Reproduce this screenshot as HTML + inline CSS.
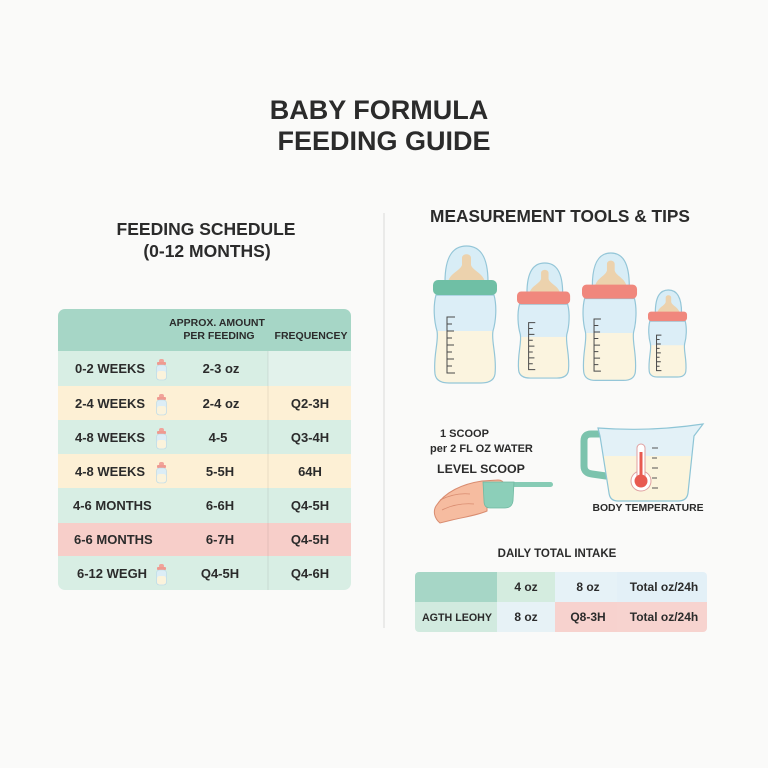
<!DOCTYPE html>
<html><head><meta charset="utf-8"><style>
html,body{margin:0;padding:0;background:#fafaf9;}
svg{display:block;}
text{font-family:"Liberation Sans",sans-serif;font-weight:bold;fill:#2b2b2b;}
</style></head><body>
<svg width="768" height="768" viewBox="0 0 768 768" xmlns="http://www.w3.org/2000/svg">
<defs>
  <clipPath id="tclip"><rect x="58" y="309" width="293" height="281" rx="7"/></clipPath>
  <clipPath id="dclip"><rect x="415" y="572" width="292" height="60" rx="4"/></clipPath>
  <clipPath id="bodyclip"><path d="M3 49 L61 49 C64 60 63 75 60 85 C58 95 64 110 62 128 C61 135 55 137 48 137 L16 137 C9 137 3 135 2 128 C0 110 6 95 4 85 C1 75 0 60 3 49 Z"/></clipPath>
  <clipPath id="cupclip"><path d="M598 428 Q650 432 703 424 L694 436 L688 493 Q687 501 678 501 L618 501 Q610 501 609 493 L600 436 Z"/></clipPath>
</defs>
<rect width="768" height="768" fill="#fafaf9"/>

<!-- Title -->
<text x="379" y="119" font-size="27" text-anchor="middle" fill="#262626">BABY FORMULA</text>
<text x="384" y="150" font-size="27" text-anchor="middle" fill="#262626">FEEDING GUIDE</text>

<!-- Divider -->
<line x1="384" y1="213" x2="384" y2="628" stroke="#e4e4e4" stroke-width="1.5"/>

<!-- Left headings -->
<text x="206" y="235" font-size="17.5" text-anchor="middle">FEEDING SCHEDULE</text>
<text x="207" y="257" font-size="17.5" text-anchor="middle">(0-12 MONTHS)</text>

<!-- Left table -->
<g clip-path="url(#tclip)">
  <rect x="58" y="309" width="293" height="42" fill="#a6d6c6"/>
  <rect x="58" y="351" width="293" height="35" fill="#d8eee4"/>
  <rect x="268" y="351" width="83" height="35" fill="#e2f2eb"/>
  <rect x="58" y="386" width="293" height="34" fill="#fdf0d5"/>
  <rect x="58" y="420" width="293" height="34" fill="#d8eee4"/>
  <rect x="58" y="454" width="293" height="34" fill="#fdf0d5"/>
  <rect x="58" y="488" width="293" height="35" fill="#d8eee4"/>
  <rect x="58" y="523" width="293" height="33" fill="#f7cec9"/>
  <rect x="58" y="556" width="293" height="34" fill="#d8eee4"/>
  <line x1="268" y1="351" x2="268" y2="590" stroke="#000" stroke-opacity="0.08" stroke-width="1"/>
</g>
<text x="217" y="326" font-size="10.5" text-anchor="middle" fill="#333">APPROX. AMOUNT</text>
<text x="219" y="339" font-size="10.5" text-anchor="middle" fill="#333">PER FEEDING</text>
<text x="311" y="339" font-size="10.5" text-anchor="middle" fill="#333">FREQUENCEY</text>

<g font-size="13">
  <text x="75" y="373">0-2 WEEKS</text>
  <text x="221" y="373" text-anchor="middle">2-3 oz</text>

  <text x="75" y="408">2-4 WEEKS</text>
  <text x="221" y="408" text-anchor="middle">2-4 oz</text>
  <text x="310" y="408" text-anchor="middle">Q2-3H</text>

  <text x="75" y="442">4-8 WEEKS</text>
  <text x="218" y="442" text-anchor="middle">4-5</text>
  <text x="310" y="442" text-anchor="middle">Q3-4H</text>

  <text x="75" y="476">4-8 WEEKS</text>
  <text x="220" y="476" text-anchor="middle">5-5H</text>
  <text x="310" y="476" text-anchor="middle">64H</text>

  <text x="73" y="510">4-6 MONTHS</text>
  <text x="220" y="510" text-anchor="middle">6-6H</text>
  <text x="310" y="510" text-anchor="middle">Q4-5H</text>

  <text x="74" y="544">6-6 MONTHS</text>
  <text x="220" y="544" text-anchor="middle">6-7H</text>
  <text x="310" y="544" text-anchor="middle">Q4-5H</text>

  <text x="77" y="578">6-12 WEGH</text>
  <text x="220" y="578" text-anchor="middle">Q4-5H</text>
  <text x="310" y="578" text-anchor="middle">Q4-6H</text>
</g>

<!-- small bottle icons -->
<g id="sb1" transform="translate(156,359)">
  <rect x="3" y="0" width="5" height="4" rx="2" fill="#f1a39a"/>
  <rect x="1" y="3" width="9" height="3" rx="1" fill="#ef9a90"/>
  <rect x="0.5" y="6" width="10" height="15" rx="3" fill="#dcedf6" stroke="#b9d8e4" stroke-width="0.6"/>
  <rect x="1" y="12" width="9" height="8.5" rx="2.5" fill="#fbf3dc"/>
</g>
<use href="#sb1" x="0" y="35"/>
<use href="#sb1" x="0" y="69"/>
<use href="#sb1" x="0" y="103"/>
<use href="#sb1" x="0" y="205"/>

<!-- Right heading -->
<text x="560" y="222" font-size="17.3" text-anchor="middle">MEASUREMENT TOOLS &amp; TIPS</text>

<!-- Bottles -->
<g transform="translate(433,246)">
  <path d="M12 36 C12 10 20 0 33.5 0 C47 0 55 10 55 36 Z" fill="#d8edf6" stroke="#94c6d8" stroke-width="1.2" vector-effect="non-scaling-stroke"/>
  <path d="M15 36 C17 27 27 25 29 19 L29 12 C29 7 38 7 38 12 L38 19 C40 25 50 27 52 36 Z" fill="#ecd2ad"/>
  <path d="M3 49 L61 49 C64 60 63 75 60 85 C58 95 64 110 62 128 C61 135 55 137 48 137 L16 137 C9 137 3 135 2 128 C0 110 6 95 4 85 C1 75 0 60 3 49 Z" fill="#dceef7"/>
  <rect x="0" y="85" width="64" height="60" fill="#fbf4df" clip-path="url(#bodyclip)"/>
  <path d="M3 49 L61 49 C64 60 63 75 60 85 C58 95 64 110 62 128 C61 135 55 137 48 137 L16 137 C9 137 3 135 2 128 C0 110 6 95 4 85 C1 75 0 60 3 49 Z" fill="none" stroke="#94c6d8" stroke-width="1.2" vector-effect="non-scaling-stroke"/>
  <rect x="0" y="34" width="64" height="15" rx="5" fill="#6fbfa5"/>
  <path d="M22 71 L14 71 L14 127 L22 127 M14 78 L19 78 M14 85 L21 85 M14 92 L19 92 M14 99 L21 99 M14 106 L19 106 M14 113 L21 113 M14 120 L19 120" fill="none" stroke="#4a4a4a" stroke-width="1" vector-effect="non-scaling-stroke"/>
</g>
<g transform="translate(517,263) scale(0.83,0.84)">
  <path d="M12 36 C12 10 20 0 33.5 0 C47 0 55 10 55 36 Z" fill="#d8edf6" stroke="#94c6d8" stroke-width="1.2" vector-effect="non-scaling-stroke"/>
  <path d="M15 36 C17 27 27 25 29 19 L29 12 C29 7 38 7 38 12 L38 19 C40 25 50 27 52 36 Z" fill="#ecd2ad"/>
  <path d="M3 49 L61 49 C64 60 63 75 60 85 C58 95 64 110 62 128 C61 135 55 137 48 137 L16 137 C9 137 3 135 2 128 C0 110 6 95 4 85 C1 75 0 60 3 49 Z" fill="#dceef7"/>
  <rect x="0" y="88" width="64" height="60" fill="#fbf4df" clip-path="url(#bodyclip)"/>
  <path d="M3 49 L61 49 C64 60 63 75 60 85 C58 95 64 110 62 128 C61 135 55 137 48 137 L16 137 C9 137 3 135 2 128 C0 110 6 95 4 85 C1 75 0 60 3 49 Z" fill="none" stroke="#94c6d8" stroke-width="1.2" vector-effect="non-scaling-stroke"/>
  <rect x="0" y="34" width="64" height="15" rx="5" fill="#f0877d"/>
  <path d="M22 71 L14 71 L14 127 L22 127 M14 78 L19 78 M14 85 L21 85 M14 92 L19 92 M14 99 L21 99 M14 106 L19 106 M14 113 L21 113 M14 120 L19 120" fill="none" stroke="#4a4a4a" stroke-width="1" vector-effect="non-scaling-stroke"/>
</g>
<g transform="translate(582,253) scale(0.86,0.93)">
  <path d="M12 36 C12 10 20 0 33.5 0 C47 0 55 10 55 36 Z" fill="#d8edf6" stroke="#94c6d8" stroke-width="1.2" vector-effect="non-scaling-stroke"/>
  <path d="M15 36 C17 27 27 25 29 19 L29 12 C29 7 38 7 38 12 L38 19 C40 25 50 27 52 36 Z" fill="#ecd2ad"/>
  <path d="M3 49 L61 49 C64 60 63 75 60 85 C58 95 64 110 62 128 C61 135 55 137 48 137 L16 137 C9 137 3 135 2 128 C0 110 6 95 4 85 C1 75 0 60 3 49 Z" fill="#dceef7"/>
  <rect x="0" y="86" width="64" height="60" fill="#fbf4df" clip-path="url(#bodyclip)"/>
  <path d="M3 49 L61 49 C64 60 63 75 60 85 C58 95 64 110 62 128 C61 135 55 137 48 137 L16 137 C9 137 3 135 2 128 C0 110 6 95 4 85 C1 75 0 60 3 49 Z" fill="none" stroke="#94c6d8" stroke-width="1.2" vector-effect="non-scaling-stroke"/>
  <rect x="0" y="34" width="64" height="15" rx="5" fill="#f0877d"/>
  <path d="M22 71 L14 71 L14 127 L22 127 M14 78 L19 78 M14 85 L21 85 M14 92 L19 92 M14 99 L21 99 M14 106 L19 106 M14 113 L21 113 M14 120 L19 120" fill="none" stroke="#4a4a4a" stroke-width="1" vector-effect="non-scaling-stroke"/>
</g>
<g transform="translate(648,290) scale(0.61,0.635)">
  <path d="M12 36 C12 10 20 0 33.5 0 C47 0 55 10 55 36 Z" fill="#d8edf6" stroke="#94c6d8" stroke-width="1.2" vector-effect="non-scaling-stroke"/>
  <path d="M15 36 C17 27 27 25 29 19 L29 12 C29 7 38 7 38 12 L38 19 C40 25 50 27 52 36 Z" fill="#ecd2ad"/>
  <path d="M3 49 L61 49 C64 60 63 75 60 85 C58 95 64 110 62 128 C61 135 55 137 48 137 L16 137 C9 137 3 135 2 128 C0 110 6 95 4 85 C1 75 0 60 3 49 Z" fill="#dceef7"/>
  <rect x="0" y="87" width="64" height="60" fill="#fbf4df" clip-path="url(#bodyclip)"/>
  <path d="M3 49 L61 49 C64 60 63 75 60 85 C58 95 64 110 62 128 C61 135 55 137 48 137 L16 137 C9 137 3 135 2 128 C0 110 6 95 4 85 C1 75 0 60 3 49 Z" fill="none" stroke="#94c6d8" stroke-width="1.2" vector-effect="non-scaling-stroke"/>
  <rect x="0" y="34" width="64" height="15" rx="5" fill="#f0877d"/>
  <path d="M22 71 L14 71 L14 127 L22 127 M14 78 L19 78 M14 85 L21 85 M14 92 L19 92 M14 99 L21 99 M14 106 L19 106 M14 113 L21 113 M14 120 L19 120" fill="none" stroke="#4a4a4a" stroke-width="1" vector-effect="non-scaling-stroke"/>
</g>

<!-- Scoop text -->
<text x="440" y="437" font-size="11">1 SCOOP</text>
<text x="430" y="452" font-size="11">per 2 FL OZ WATER</text>
<text x="437" y="473" font-size="12.4">LEVEL SCOOP</text>

<!-- Hand + scoop -->
<path d="M436 506 C445 492 462 484 482 481 L498 480 C505 480 506 487 499 488 L487 489 L487 511 C478 515 465 517 452 520 L440 523 C434 518 433 511 436 506 Z" fill="#f6bca0" stroke="#d98c70" stroke-width="1"/>
<path d="M440 500 C450 495 460 493 470 494 M442 510 C452 505 462 503 474 504" fill="none" stroke="#d98c70" stroke-width="0.8"/>
<rect x="510" y="482" width="43" height="5" rx="2.5" fill="#86cbb5"/>
<path d="M483 482 L514 482 L513 501 Q512 508 505 508 L490 508 Q484 508 484 501 Z" fill="#8ccfb9" stroke="#6fb9a2" stroke-width="0.8"/>

<!-- Measuring cup -->
<path d="M602 434 L591 434 Q584 434 584 441 L584 466 Q584 473 592 474 L606 476" fill="none" stroke="#7cc3ad" stroke-width="7" stroke-linecap="round"/>
<path d="M598 428 Q650 432 703 424 L694 436 L688 493 Q687 501 678 501 L618 501 Q610 501 609 493 L600 436 Z" fill="#e3f1f7"/>
<rect x="595" y="456" width="110" height="50" fill="#fbf4dc" clip-path="url(#cupclip)"/>
<path d="M598 428 Q650 432 703 424 L694 436 L688 493 Q687 501 678 501 L618 501 Q610 501 609 493 L600 436 Z" fill="none" stroke="#8ec5d6" stroke-width="1.2"/>
<path d="M652 448 L658 448 M652 458 L657 458 M652 468 L658 468 M652 478 L657 478 M652 488 L658 488" stroke="#555" stroke-width="1"/>
<circle cx="641" cy="481" r="10" fill="#fff" stroke="#e0a0a0" stroke-width="1"/>
<rect x="637" y="444" width="8" height="38" rx="4" fill="#fff" stroke="#e0a0a0" stroke-width="1"/>
<rect x="639.5" y="452" width="3" height="28" fill="#e85a50"/>
<circle cx="641" cy="481" r="6.5" fill="#e85a50"/>

<text x="648" y="511" font-size="10.4" text-anchor="middle">BODY TEMPERATURE</text>

<!-- Daily total intake -->
<text x="557" y="557" font-size="11.5" text-anchor="middle">DAILY TOTAL INTAKE</text>
<g clip-path="url(#dclip)">
  <rect x="415" y="572" width="82" height="30" fill="#a6d6c6"/>
  <rect x="497" y="572" width="58" height="30" fill="#d4ecdf"/>
  <rect x="555" y="572" width="62" height="30" fill="#e6f2f7"/>
  <rect x="617" y="572" width="90" height="30" fill="#e3f0f7"/>
  <rect x="415" y="602" width="82" height="30" fill="#d1eadf"/>
  <rect x="497" y="602" width="58" height="30" fill="#e7f2f6"/>
  <rect x="555" y="602" width="62" height="30" fill="#f7d2ce"/>
  <rect x="617" y="602" width="90" height="30" fill="#f7d3cf"/>
</g>
<g font-size="12">
  <text x="526" y="591" text-anchor="middle">4 oz</text>
  <text x="588" y="591" text-anchor="middle">8 oz</text>
  <text x="664" y="591" text-anchor="middle">Total oz/24h</text>
  <text x="457" y="621" font-size="10.7" text-anchor="middle">AGTH LEOHY</text>
  <text x="526" y="621" text-anchor="middle">8 oz</text>
  <text x="588" y="621" text-anchor="middle">Q8-3H</text>
  <text x="664" y="621" text-anchor="middle">Total oz/24h</text>
</g>
</svg>
</body></html>
